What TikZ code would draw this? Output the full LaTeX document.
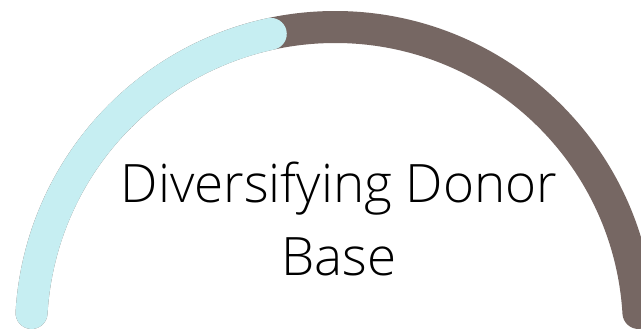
\documentclass[tikz,border=0pt]{standalone}
\usepackage{fontspec}
\setmainfont{Open Sans Light}
\definecolor{gaugecyan}{RGB}{198,238,242}
\definecolor{gaugebrown}{RGB}{118,103,99}
\tikzset{
  arcline/.style={line width=32pt, line cap=round},
  bigtext/.style={font=\fontsize{53}{66}\selectfont, inner sep=0pt, anchor=base, text=black}
}
\begin{document}
\begin{tikzpicture}[x=1pt,y=1pt]
\useasboundingbox (0,0) rectangle (641,331);
\coordinate (c) at (335,0);
\draw[arcline, gaugebrown] (c) ++(3.4:304) arc[start angle=3.4, end angle=176.6, radius=304];
\draw[arcline, gaugecyan] (c) ++(176.6:304) arc[start angle=176.6, end angle=102.2, radius=304];
\node[bigtext] (t1) at (339,128) {Diversifying Donor};
\node[bigtext] (t2) at (339,55) {Base};
\end{tikzpicture}
\end{document}
